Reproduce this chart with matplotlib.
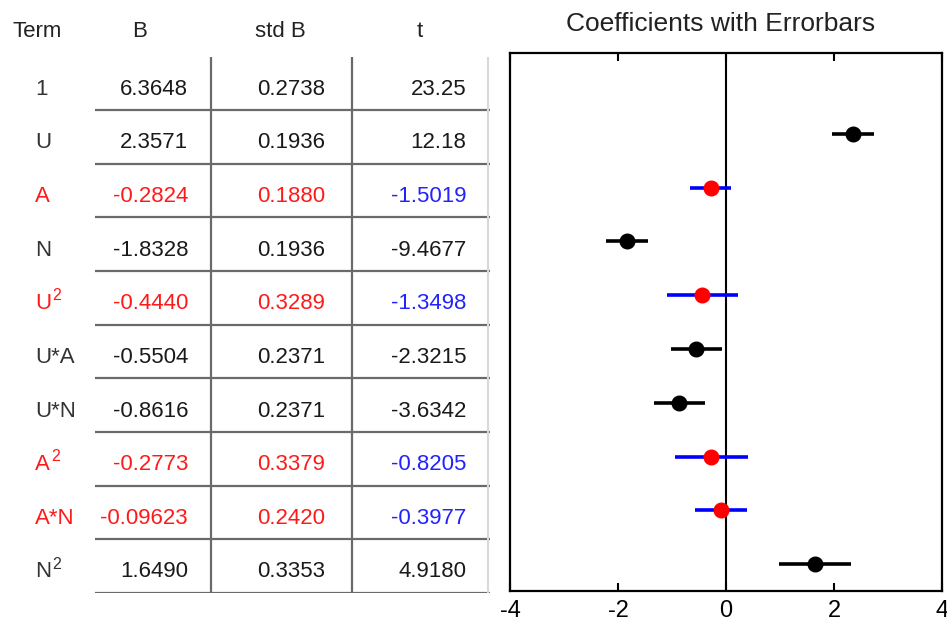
import matplotlib
matplotlib.use("Agg")
import matplotlib.pyplot as plt

plt.rcParams['font.family'] = ['Liberation Sans', 'DejaVu Sans']
plt.rcParams['axes.unicode_minus'] = False

# Regression terms and their estimates (superscript power kept separately)
terms = ['1', 'U', 'A', 'N', 'U', 'U*A', 'U*N', 'A', 'A*N', 'N']
term_powers = ['', '', '', '', '2', '', '', '2', '', '2']
coef = [6.3648, 2.3571, -0.2824, -1.8328, -0.4440, -0.5504, -0.8616, -0.2773, -0.09623, 1.6490]
coef_labels = ['6.3648', '2.3571', '-0.2824', '-1.8328', '-0.4440', '-0.5504',
               '-0.8616', '-0.2773', '-0.09623', '1.6490']
std_err = [0.2738, 0.1936, 0.1880, 0.1936, 0.3289, 0.2371, 0.2371, 0.3379, 0.2420, 0.3353]
std_labels = ['0.2738', '0.1936', '0.1880', '0.1936', '0.3289', '0.2371',
              '0.2371', '0.3379', '0.2420', '0.3353']
t_stat = [23.25, 12.18, -1.5019, -9.4677, -1.3498, -2.3215, -3.6342, -0.8205, -0.3977, 4.9180]
t_labels = ['23.25', '12.18', '-1.5019', '-9.4677', '-1.3498', '-2.3215',
            '-3.6342', '-0.8205', '-0.3977', '4.9180']
headers = ['Term', 'B', 'std B', 't']
x_ticks = [-4, -2, 0, 2, 4]

t_crit = 2.0
W, H = 947, 623
fig = plt.figure(figsize=(W / 100, H / 100), dpi=100)

# ---- coefficient table (left) ----
tab = fig.add_axes([0, 1 - 593 / H, 500 / W, 590.1 / H])
tab.set_xlim(0, 500)
tab.set_ylim(9.5, -1.5)
tab.axis('off')

grid_col = '#6a6a6a'
n = len(terms)
for i in range(n):
    tab.plot([95, 490], [i + 0.5, i + 0.5], color=grid_col, lw=1.6, solid_capstyle='butt')
for xv in (211, 352):
    tab.plot([xv, xv], [-0.5, n - 0.5], color=grid_col, lw=1.6, solid_capstyle='butt')
tab.plot([488, 488], [-0.5, n - 0.5], color='#d9d9d9', lw=1.5, solid_capstyle='butt')

fs = 16
hy = -1 + 0.13
tab.text(12, hy, headers[0], ha='left', va='baseline', fontsize=fs, color='#222222')
tab.text(140, hy, headers[1], ha='center', va='baseline', fontsize=fs, color='#222222')
tab.text(280, hy, headers[2], ha='center', va='baseline', fontsize=fs, color='#222222')
tab.text(420, hy, headers[3], ha='center', va='baseline', fontsize=fs, color='#222222')

for i in range(n):
    sig = abs(t_stat[i]) >= t_crit
    c_main = '#1a1a1a' if sig else '#ff1a1a'
    c_t = '#1a1a1a' if sig else '#2222ff'
    c_term = '#333333' if sig else '#ff1a1a'
    y = i + 0.21
    lbl = tab.text(35, y, terms[i], ha='left', va='baseline', fontsize=fs, color=c_term)
    if term_powers[i]:
        tab.annotate(term_powers[i], xy=(1, 1), xycoords=lbl, xytext=(0.8, 3.5),
                     textcoords='offset points', ha='left', va='top',
                     fontsize=11.5, color=c_term)
    tab.text(188, y, coef_labels[i], ha='right', va='baseline', fontsize=fs, color=c_main)
    tab.text(325, y, std_labels[i], ha='right', va='baseline', fontsize=fs, color=c_main)
    tab.text(466, y, t_labels[i], ha='right', va='baseline', fontsize=fs, color=c_t)

# ---- coefficient plot (right) ----
ax = fig.add_axes([510 / W, 1 - 591 / H, 432 / W, 538 / H])
ax.set_xlim(-4, 4)
ax.set_ylim(n - 0.5, -0.5)
ax.axvline(0, color='black', lw=1.5, zorder=1)
for i in range(1, n):
    sig = abs(t_stat[i]) >= t_crit
    ax.errorbar(coef[i], i, xerr=2 * std_err[i], fmt='o',
                color='black' if sig else '#ff0000',
                ecolor='black' if sig else '#0000ff',
                elinewidth=2.6, ms=10.5, capsize=0, zorder=3)

ax.set_xticks(x_ticks)
ax.set_xticklabels([str(v) for v in x_ticks])
ax.set_yticks([])
ax.tick_params(axis='x', direction='in', top=True, length=6, width=1.5,
               labelsize=17, pad=6.5, colors='black')
for sp in ax.spines.values():
    sp.set_linewidth(1.6)

fig.text(721 / W, 1 - 24 / H, 'Coefficients with Errorbars', ha='center', va='center',
         fontsize=19, color='#222222')

fig.savefig('out.png', dpi=100)
